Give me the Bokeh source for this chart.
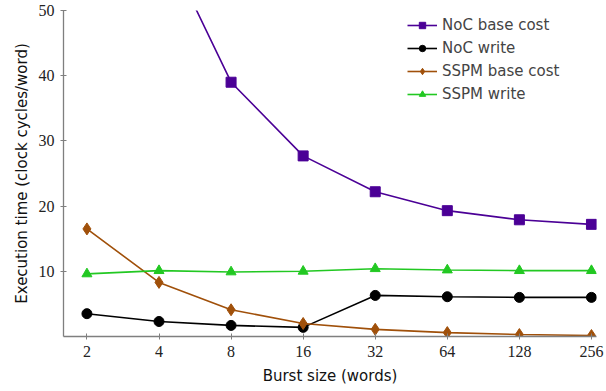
from bokeh.plotting import figure
from bokeh.models import Range1d, FixedTicker, NumeralTickFormatter, Legend, LegendItem
from bokeh.embed import file_html
from bokeh.resources import INLINE

burst = [2, 4, 8, 16, 32, 64, 128, 256]
noc_base = [110, 62, 39.0, 27.7, 22.2, 19.3, 17.9, 17.2]
noc_write = [3.5, 2.3, 1.7, 1.4, 6.3, 6.1, 6.0, 6.0]
sspm_base = [16.5, 8.3, 4.1, 2.0, 1.1, 0.6, 0.3, 0.15]
sspm_write = [9.6, 10.1, 9.9, 10.0, 10.4, 10.2, 10.1, 10.1]
y_ticks = [10, 20, 30, 40, 50]

p = figure(width=606, height=391, output_backend="svg", toolbar_location=None,
           x_axis_type="log",
           x_range=Range1d(2 ** 0.675, 2 ** 8.07), y_range=Range1d(0, 50),
           min_border_left=63, min_border_right=10, min_border_top=10, min_border_bottom=55)
p.outline_line_color = None
p.xgrid.grid_line_color = None
p.ygrid.grid_line_color = None

tick_font = "Liberation Serif"
for ax in (p.xaxis[0], p.yaxis[0]):
    ax.axis_line_color = "#7f7f7f"
    ax.axis_line_width = 1.3
    ax.major_tick_line_color = "#7f7f7f"
    ax.major_tick_in = 3
    ax.major_tick_out = 3
    ax.minor_tick_line_color = None
    ax.major_label_text_font = tick_font
    ax.major_label_text_font_size = "16px"
    ax.major_label_text_color = "#222222"
    ax.axis_label_text_font = "DejaVu Sans"
    ax.axis_label_text_font_size = "15px"
    ax.axis_label_text_font_style = "normal"
    ax.axis_label_text_color = "#111111"

p.xaxis.ticker = FixedTicker(ticks=burst)
p.xaxis.formatter = NumeralTickFormatter(format="0")
p.yaxis.ticker = FixedTicker(ticks=y_ticks)
p.xaxis.axis_label = "Burst size (words)"
p.yaxis.axis_label = "Execution time (clock cycles/word)"
p.xaxis.major_label_standoff = 6
p.yaxis.major_label_standoff = 6
p.xaxis.axis_label_standoff = 7
p.yaxis.axis_label_standoff = 5

c_nb = "#4b0096"
c_nw = "#000000"
c_sb = "#a0500a"
c_sw = "#22c822"

items = []
r1 = p.line(burst, noc_base, color=c_nb, line_width=1.6)
m1 = p.scatter(burst, noc_base, marker="square", size=10, color=c_nb)
items.append(LegendItem(label="NoC base cost", renderers=[r1, m1]))
r2 = p.line(burst, noc_write, color=c_nw, line_width=1.6)
m2 = p.scatter(burst, noc_write, marker="circle", size=10, color=c_nw)
items.append(LegendItem(label="NoC write", renderers=[r2, m2]))
r3 = p.line(burst, sspm_base, color=c_sb, line_width=1.6)
m3 = p.scatter(burst, sspm_base, marker="diamond", size=12, color=c_sb)
items.append(LegendItem(label="SSPM base cost", renderers=[r3, m3]))
r4 = p.line(burst, sspm_write, color=c_sw, line_width=1.6)
m4 = p.scatter(burst, sspm_write, marker="triangle", size=10, color=c_sw)
items.append(LegendItem(label="SSPM write", renderers=[r4, m4]))

legend = Legend(items=items, location=(338, 227),
                border_line_alpha=0, background_fill_alpha=0,
                label_text_font="DejaVu Sans", label_text_font_size="15px",
                glyph_width=30, label_height=16, glyph_height=16, spacing=5,
                padding=6, margin=0, label_standoff=5)
p.add_layout(legend)

open("out.html", "w").write(file_html(p, INLINE))
